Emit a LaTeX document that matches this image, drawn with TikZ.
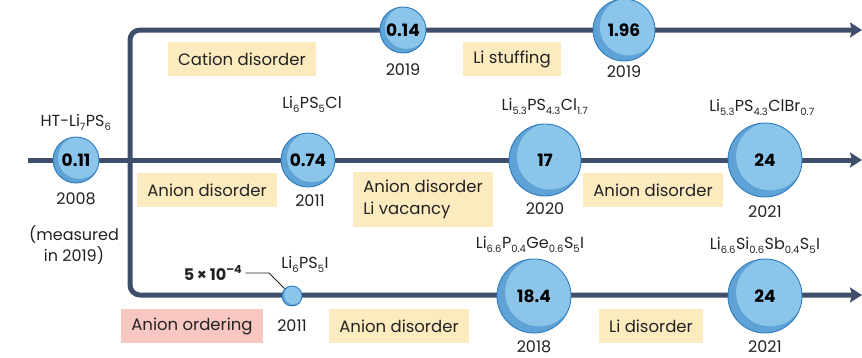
\documentclass[tikz,border=0pt]{standalone}
\usepackage{fontspec}
\setmainfont{Poppins}
\usepackage{tikz}
\usetikzlibrary{positioning, arrows.meta, calc}
\usepackage{xcolor}
\definecolor{trackblue}{HTML}{3E4E6B}
\definecolor{bubblelight}{HTML}{8CC5EA}
\definecolor{bubbledark}{HTML}{5FA2D6}
\definecolor{bubbleedge}{HTML}{2F7CBF}
\definecolor{noteyellow}{HTML}{FDEBC0}
\definecolor{notepink}{HTML}{F8C7C2}
\definecolor{textdark}{HTML}{222222}
\newcommand{\lo}[1]{\textsubscript{\fontsize{10}{10}\selectfont\raisebox{-1.5pt}{#1}}}
\tikzset{
    bubble/.style={
        circle,
        draw=bubbleedge,
        fill=bubblelight,
        line width=0.9pt,
        inner sep=0pt,
        minimum size=#1,
        text=black,
        font=\bfseries\fontsize{17}{18}\selectfont,
        path picture={
            \fill[bubbledark] (path picture bounding box.south west) rectangle (path picture bounding box.north east);
            \fill[bubblelight] let \p1=(path picture bounding box.north east),
                \p2=(path picture bounding box.center) in
                ({\x2+0.14*(\x1-\x2)},{\y2+0.1*(\y1-\y2)}) circle ({0.92*(\x1-\x2)});
        }
    },
    track/.style={
        draw=trackblue,
        line width=5pt
    },
    note/.style={
        fill=noteyellow,
        inner xsep=10pt,
        inner ysep=0pt,
        minimum height=34pt,
        text=textdark,
        align=left,
        font=\fontsize{16.5}{22}\selectfont
    },
    lab/.style={
        inner sep=0pt,
        text=textdark,
        align=center,
        font=\fontsize{16}{21}\selectfont
    }
}

\begin{document}
\begin{tikzpicture}[
        x=1pt, y=-1pt
      ]
      \useasboundingbox (0,0) rectangle (862,357);

      \coordinate (start) at (28,160);
      \coordinate (mainend) at (862,160);
      \coordinate (topend) at (862,30);
      \coordinate (botend) at (862,295);
      \coordinate (bendT) at (130,30);
      \coordinate (bendB) at (130,295);

      \draw[track, -{Stealth[length=12pt, width=15pt, inset=2pt]}] (start) -- (mainend);
      \draw[track, {Stealth[length=12pt, width=15pt, inset=2pt]}-{Stealth[length=12pt, width=15pt, inset=2pt]},
        rounded corners=10pt] (topend) -- (bendT) -- (bendB) -- (botend);

      % middle track
      \node[bubble=46pt] (A) at (76,160) {0.11};
      \node[bubble=54pt] (B) at (308,160) {0.74};
      \node[bubble=72pt] (C) at (545,160) {17};
      \node[bubble=74pt] (D) at (765,160) {24};

      % top track
      \node[bubble=46pt] (E) at (403,30) {0.14};
      \node[bubble=62pt] (F) at (624,30) {1.96};

      % bottom track
      \node[bubble=20pt] (G) at (292,296) {};
      \node[bubble=74pt] (H) at (534,296) {18.4};
      \node[bubble=74pt] (I) at (765,296) {24};

      \node[lab] (A1) at (76,122) {HT-Li\lo{7}PS\lo{6}};
      \node[lab] (A2) at (76,199) {2008};
      \node[lab] (A3) at (74,245) {(measured\\in 2019)};
      \node[lab] (B1) at (312,104) {Li\lo{6}PS\lo{5}Cl};
      \node[lab] (B2) at (310,201) {2011};
      \node[lab] (C1) at (545,106) {Li\lo{5.3}PS\lo{4.3}Cl\lo{1.7}};
      \node[lab] (C2) at (545,209) {2020};
      \node[lab] (D1) at (762,107) {Li\lo{5.3}PS\lo{4.3}ClBr\lo{0.7}};
      \node[lab] (D2) at (765,212) {2021};
      \node[lab] (E2) at (403,70) {2019};
      \node[lab] (F2) at (624,72) {2019};
      \node[lab] (G1) at (305,264) {Li\lo{6}PS\lo{5}I};
      \node[lab] (G2) at (292,326) {2011};
      \node[lab, font=\bfseries\fontsize{16}{18}\selectfont] (G3) at (213,273) {5\,×\,10\textsuperscript{–4}};
      \node[lab] (H1) at (530,244) {Li\lo{6.6}P\lo{0.4}Ge\lo{0.6}S\lo{5}I};
      \node[lab] (H2) at (534,347) {2018};
      \node[lab] (I1) at (765,245) {Li\lo{6.6}Si\lo{0.6}Sb\lo{0.4}S\lo{5}I};
      \node[lab] (I2) at (765,347) {2021};

      \coordinate (kink) at (269,273);
      \draw[textdark, line width=0.8pt] (G3.east) ++(3pt,0) -- (kink) -- (G);

      \node[note] (N1) at (242,59) {Cation disorder};
      \node[note] (N2) at (512,59) {Li stuffing};
      \node[note] (N3) at (207,190) {Anion disorder};
      \node[note, minimum height=55pt] (N4) at (423,199) {Anion disorder\\Li vacancy};
      \node[note] (N5) at (653,190) {Anion disorder};
      \node[note, fill=notepink] (N6) at (192,326) {Anion ordering};
      \node[note] (N7) at (399,326) {Anion disorder};
      \node[note] (N8) at (651,326) {Li disorder};

    \end{tikzpicture}
\end{document}
